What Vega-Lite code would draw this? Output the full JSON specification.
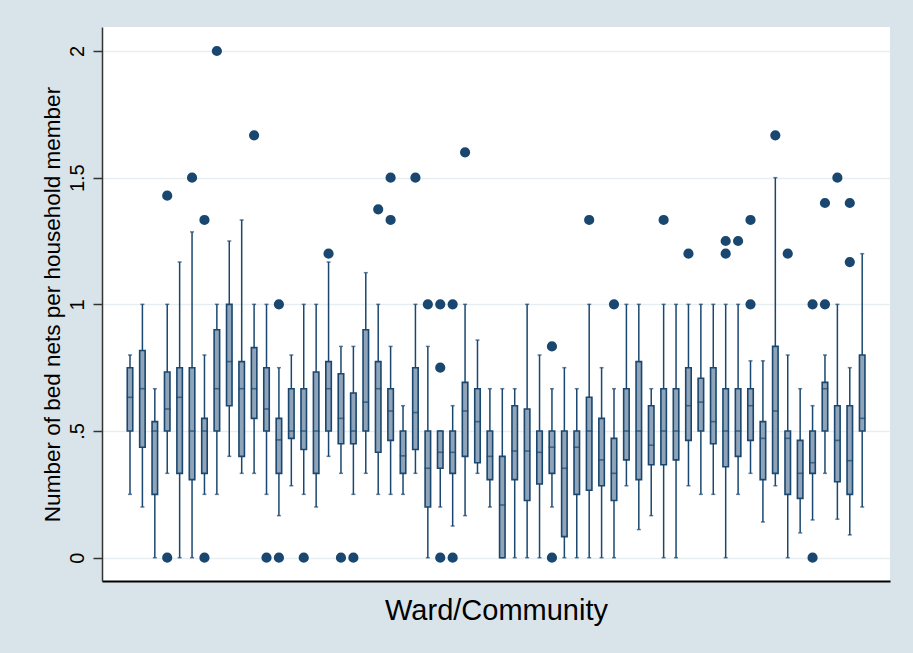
{
  "$schema": "https://vega.github.io/schema/vega-lite/v6.json",
  "width": 788,
  "height": 554,
  "autosize": {"type": "none"},
  "padding": {"left": 102, "top": 27, "right": 23, "bottom": 72},
  "background": "#d9e4ea",
  "view": {"fill": "white", "stroke": null},
  "config": {
    "font": "Liberation Sans",
    "axis": {"labelFont": "Liberation Sans", "titleFont": "Liberation Sans"}
  },
  "datasets": {
    "boxes": [
      {"i": 1, "lo": 0.25, "q1": 0.5, "med": 0.633, "q3": 0.75, "hi": 0.8},
      {"i": 2, "lo": 0.2, "q1": 0.436, "med": 0.667, "q3": 0.818, "hi": 1.0},
      {"i": 3, "lo": 0, "q1": 0.25, "med": 0.5, "q3": 0.537, "hi": 0.667},
      {"i": 4, "lo": 0.333, "q1": 0.5, "med": 0.587, "q3": 0.733, "hi": 1.0},
      {"i": 5, "lo": 0, "q1": 0.333, "med": 0.633, "q3": 0.75, "hi": 1.167},
      {"i": 6, "lo": 0, "q1": 0.308, "med": 0.5, "q3": 0.75, "hi": 1.286},
      {"i": 7, "lo": 0.25, "q1": 0.333, "med": 0.5, "q3": 0.55, "hi": 0.8},
      {"i": 8, "lo": 0.25, "q1": 0.5, "med": 0.667, "q3": 0.9, "hi": 1.0},
      {"i": 9, "lo": 0.4, "q1": 0.6, "med": 0.774, "q3": 1.0, "hi": 1.25},
      {"i": 10, "lo": 0.333, "q1": 0.4, "med": 0.667, "q3": 0.774, "hi": 1.333},
      {"i": 11, "lo": 0.333, "q1": 0.55, "med": 0.667, "q3": 0.829, "hi": 1.0},
      {"i": 12, "lo": 0.25, "q1": 0.5, "med": 0.587, "q3": 0.75, "hi": 1.0},
      {"i": 13, "lo": 0.166, "q1": 0.333, "med": 0.465, "q3": 0.55, "hi": 0.75},
      {"i": 14, "lo": 0.284, "q1": 0.471, "med": 0.5, "q3": 0.667, "hi": 0.8},
      {"i": 15, "lo": 0.25, "q1": 0.427, "med": 0.5, "q3": 0.667, "hi": 1.0},
      {"i": 16, "lo": 0.2, "q1": 0.333, "med": 0.5, "q3": 0.733, "hi": 1.0},
      {"i": 17, "lo": 0.4, "q1": 0.5, "med": 0.667, "q3": 0.774, "hi": 1.167},
      {"i": 18, "lo": 0.333, "q1": 0.45, "med": 0.55, "q3": 0.726, "hi": 0.834},
      {"i": 19, "lo": 0.25, "q1": 0.45, "med": 0.5, "q3": 0.65, "hi": 0.834},
      {"i": 20, "lo": 0.333, "q1": 0.5, "med": 0.614, "q3": 0.9, "hi": 1.125},
      {"i": 21, "lo": 0.25, "q1": 0.416, "med": 0.667, "q3": 0.774, "hi": 1.0},
      {"i": 22, "lo": 0.25, "q1": 0.463, "med": 0.579, "q3": 0.667, "hi": 0.834},
      {"i": 23, "lo": 0.25, "q1": 0.333, "med": 0.402, "q3": 0.5, "hi": 0.6},
      {"i": 24, "lo": 0.333, "q1": 0.427, "med": 0.573, "q3": 0.75, "hi": 1.0},
      {"i": 25, "lo": 0, "q1": 0.2, "med": 0.353, "q3": 0.5, "hi": 0.834},
      {"i": 26, "lo": 0.2, "q1": 0.353, "med": 0.416, "q3": 0.5, "hi": 0.5},
      {"i": 27, "lo": 0.125, "q1": 0.333, "med": 0.416, "q3": 0.5, "hi": 0.6},
      {"i": 28, "lo": 0.166, "q1": 0.4, "med": 0.579, "q3": 0.692, "hi": 1.0},
      {"i": 29, "lo": 0.333, "q1": 0.375, "med": 0.537, "q3": 0.667, "hi": 0.859},
      {"i": 30, "lo": 0.2, "q1": 0.308, "med": 0.4, "q3": 0.5, "hi": 0.667},
      {"i": 31, "lo": 0, "q1": 0, "med": 0.208, "q3": 0.4, "hi": 0.667},
      {"i": 32, "lo": 0, "q1": 0.308, "med": 0.421, "q3": 0.6, "hi": 0.667},
      {"i": 33, "lo": 0, "q1": 0.226, "med": 0.421, "q3": 0.587, "hi": 1.0},
      {"i": 34, "lo": 0, "q1": 0.291, "med": 0.416, "q3": 0.5, "hi": 0.8},
      {"i": 35, "lo": 0.2, "q1": 0.333, "med": 0.436, "q3": 0.5, "hi": 0.667},
      {"i": 36, "lo": 0, "q1": 0.083, "med": 0.353, "q3": 0.5, "hi": 0.75},
      {"i": 37, "lo": 0, "q1": 0.25, "med": 0.436, "q3": 0.5, "hi": 0.667},
      {"i": 38, "lo": 0, "q1": 0.266, "med": 0.5, "q3": 0.633, "hi": 1.0},
      {"i": 39, "lo": 0, "q1": 0.284, "med": 0.386, "q3": 0.55, "hi": 0.75},
      {"i": 40, "lo": 0, "q1": 0.226, "med": 0.333, "q3": 0.471, "hi": 0.667},
      {"i": 41, "lo": 0.284, "q1": 0.386, "med": 0.5, "q3": 0.667, "hi": 1.0},
      {"i": 42, "lo": 0.111, "q1": 0.308, "med": 0.5, "q3": 0.774, "hi": 1.0},
      {"i": 43, "lo": 0.166, "q1": 0.367, "med": 0.444, "q3": 0.6, "hi": 0.667},
      {"i": 44, "lo": 0, "q1": 0.367, "med": 0.5, "q3": 0.667, "hi": 1.0},
      {"i": 45, "lo": 0, "q1": 0.386, "med": 0.5, "q3": 0.667, "hi": 1.0},
      {"i": 46, "lo": 0.284, "q1": 0.463, "med": 0.6, "q3": 0.75, "hi": 1.0},
      {"i": 47, "lo": 0.25, "q1": 0.5, "med": 0.614, "q3": 0.708, "hi": 1.0},
      {"i": 48, "lo": 0.25, "q1": 0.45, "med": 0.537, "q3": 0.75, "hi": 1.0},
      {"i": 49, "lo": 0, "q1": 0.359, "med": 0.5, "q3": 0.667, "hi": 1.0},
      {"i": 50, "lo": 0.25, "q1": 0.4, "med": 0.5, "q3": 0.667, "hi": 1.0},
      {"i": 51, "lo": 0.333, "q1": 0.463, "med": 0.6, "q3": 0.667, "hi": 0.777},
      {"i": 52, "lo": 0.141, "q1": 0.308, "med": 0.471, "q3": 0.537, "hi": 0.777},
      {"i": 53, "lo": 0.284, "q1": 0.333, "med": 0.579, "q3": 0.834, "hi": 1.5},
      {"i": 54, "lo": 0, "q1": 0.25, "med": 0.471, "q3": 0.5, "hi": 0.8},
      {"i": 55, "lo": 0.098, "q1": 0.234, "med": 0.333, "q3": 0.463, "hi": 0.667},
      {"i": 56, "lo": 0.149, "q1": 0.333, "med": 0.375, "q3": 0.5, "hi": 0.6},
      {"i": 57, "lo": 0.333, "q1": 0.5, "med": 0.667, "q3": 0.692, "hi": 0.8},
      {"i": 58, "lo": 0.152, "q1": 0.3, "med": 0.463, "q3": 0.6, "hi": 1.0},
      {"i": 59, "lo": 0.09, "q1": 0.25, "med": 0.383, "q3": 0.6, "hi": 0.75},
      {"i": 60, "lo": 0.2, "q1": 0.5, "med": 0.55, "q3": 0.8, "hi": 1.2}
    ],
    "outliers": [
      {"i": 4, "v": 1.429}, {"i": 4, "v": 0},
      {"i": 6, "v": 1.5},
      {"i": 7, "v": 1.333}, {"i": 7, "v": 0},
      {"i": 8, "v": 2.0},
      {"i": 11, "v": 1.667},
      {"i": 12, "v": 0},
      {"i": 13, "v": 1.0}, {"i": 13, "v": 0},
      {"i": 15, "v": 0},
      {"i": 17, "v": 1.2},
      {"i": 18, "v": 0},
      {"i": 19, "v": 0},
      {"i": 21, "v": 1.375},
      {"i": 22, "v": 1.5}, {"i": 22, "v": 1.333},
      {"i": 24, "v": 1.5},
      {"i": 25, "v": 1.0},
      {"i": 26, "v": 1.0}, {"i": 26, "v": 0.75}, {"i": 26, "v": 0},
      {"i": 27, "v": 1.0}, {"i": 27, "v": 0},
      {"i": 28, "v": 1.6},
      {"i": 35, "v": 0.834}, {"i": 35, "v": 0},
      {"i": 38, "v": 1.333},
      {"i": 40, "v": 1.0},
      {"i": 44, "v": 1.333},
      {"i": 46, "v": 1.2},
      {"i": 49, "v": 1.25}, {"i": 49, "v": 1.2},
      {"i": 50, "v": 1.25},
      {"i": 51, "v": 1.333}, {"i": 51, "v": 1.0},
      {"i": 53, "v": 1.667},
      {"i": 54, "v": 1.2},
      {"i": 56, "v": 1.0}, {"i": 56, "v": 0},
      {"i": 57, "v": 1.4}, {"i": 57, "v": 1.0},
      {"i": 58, "v": 1.5},
      {"i": 59, "v": 1.4}, {"i": 59, "v": 1.167}
    ]
  },
  "encoding": {
    "x": {
      "field": "i",
      "type": "quantitative",
      "scale": {"domain": [-1.256, 62.24], "nice": false, "zero": false, "padding": 0},
      "axis": {
        "title": "Ward/Community",
        "labels": false,
        "ticks": false,
        "grid": false,
        "domainColor": "#000000",
        "domainWidth": 2,
        "titleFontSize": 29,
        "titleFontWeight": "normal",
        "titleColor": "#000000",
        "titlePadding": 15
      }
    }
  },
  "layer": [
    {
      "data": {"name": "boxes"},
      "mark": {"type": "rule", "color": "#1a476f", "strokeWidth": 1.5},
      "encoding": {
        "y": {
          "field": "lo",
          "type": "quantitative",
          "title": "Number of bed nets per household member",
          "scale": {"domain": [-0.092, 2.0947], "nice": false, "zero": false},
          "axis": {
            "values": [0, 0.5, 1, 1.5, 2],
            "labelExpr": "datum.value == 0.5 ? '.5' : '' + datum.value",
            "labelAngle": -90,
            "labelFontSize": 20,
            "labelColor": "#000000",
            "labelPadding": 6,
            "tickSize": 9,
            "tickColor": "#333333",
            "tickWidth": 1.5,
            "domainColor": "#333333",
            "domainWidth": 1.5,
            "grid": true,
            "gridColor": "#e6eef1",
            "gridWidth": 1.5,
            "titleFontSize": 22.5,
            "titleFontWeight": "normal",
            "titleColor": "#000000",
            "titlePadding": 3
          }
        },
        "y2": {"field": "hi"}
      }
    },
    {
      "data": {"name": "boxes"},
      "mark": {"type": "tick", "orient": "horizontal", "color": "#1a476f", "size": 4, "thickness": 1.5},
      "encoding": {
        "y": {"field": "lo", "type": "quantitative", "title": "Number of bed nets per household member", "scale": {"domain": [-0.092, 2.0947], "nice": false, "zero": false}}
      }
    },
    {
      "data": {"name": "boxes"},
      "mark": {"type": "tick", "orient": "horizontal", "color": "#1a476f", "size": 4, "thickness": 1.5},
      "encoding": {
        "y": {"field": "hi", "type": "quantitative", "title": "Number of bed nets per household member", "scale": {"domain": [-0.092, 2.0947], "nice": false, "zero": false}}
      }
    },
    {
      "data": {"name": "boxes"},
      "mark": {"type": "bar", "size": 5.5, "fill": "#8fa4b9", "stroke": "#1a476f", "strokeWidth": 1.6},
      "encoding": {
        "y": {"field": "q1", "type": "quantitative", "title": "Number of bed nets per household member", "scale": {"domain": [-0.092, 2.0947], "nice": false, "zero": false}},
        "y2": {"field": "q3"}
      }
    },
    {
      "data": {"name": "boxes"},
      "mark": {"type": "tick", "orient": "horizontal", "color": "#1a476f", "size": 6.5, "thickness": 1.6},
      "encoding": {
        "y": {"field": "med", "type": "quantitative", "title": "Number of bed nets per household member", "scale": {"domain": [-0.092, 2.0947], "nice": false, "zero": false}}
      }
    },
    {
      "data": {"name": "outliers"},
      "mark": {"type": "point", "filled": true, "color": "#1a476f", "opacity": 1, "size": 104},
      "encoding": {
        "y": {"field": "v", "type": "quantitative", "title": "Number of bed nets per household member", "scale": {"domain": [-0.092, 2.0947], "nice": false, "zero": false}}
      }
    }
  ]
}
